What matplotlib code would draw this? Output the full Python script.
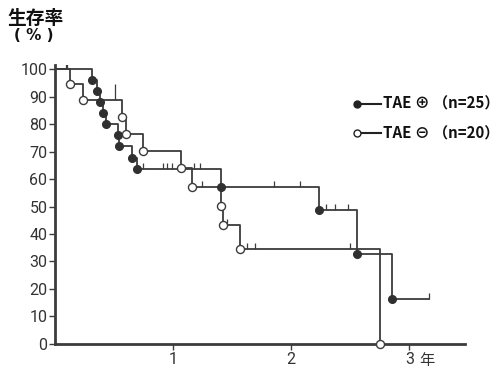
import matplotlib

matplotlib.use("Agg")

import matplotlib.pyplot as plt
import numpy as np
from matplotlib.lines import Line2D

# ---------------------------------------------------------------------------
# Datos (tiempo en anios, supervivencia en %)
# ---------------------------------------------------------------------------

# TAE (+), n=25: eventos (tiempo, supervivencia tras el evento)
tiempos_pos = [0.311, 0.358, 0.384, 0.404, 0.430, 0.536, 0.545, 0.650,
               0.692, 1.407, 2.231, 2.555, 2.853]
superv_pos = [96, 92, 88, 84, 80, 76, 72, 67.5, 63.5, 57, 48.7, 32.7, 16.3]
fin_pos = 3.164
censuras_pos = [0.090, 0.104, 0.748, 0.915, 0.950, 0.992, 1.178, 1.229,
                1.856, 2.076, 2.297, 2.367, 2.483, 3.164]

# TAE (-), n=20
tiempos_neg = [0.127, 0.240, 0.565, 0.600, 0.748, 1.068, 1.158, 1.407,
               1.420, 1.562, 2.748]
superv_neg = [94.5, 88.7, 82.7, 76.3, 70.2, 63.9, 57, 50.2, 43.3, 34.4, 0]
censuras_neg = [0.508, 1.243, 1.455, 1.625, 1.695, 2.500]

etiquetas_y = [0, 10, 20, 30, 40, 50, 60, 70, 80, 90, 100]
etiquetas_x = [1, 2, 3]

COLOR = "#3c3c3c"
ALTO_CENSURA = 2.3
FUENTE_CJK = ["Noto Sans CJK JP", "DejaVu Sans"]


def _curva(tiempos, superv, fin):
    """Devuelve x, y para ax.step (where='post') empezando en 100 %."""
    x = [0.0] + list(tiempos) + [fin]
    y = [100.0] + list(superv) + [superv[-1]]
    return np.array(x), np.array(y)


def _nivel(x, y, t):
    """Supervivencia de la curva escalonada en el instante t."""
    i = np.searchsorted(x, t, side="right") - 1
    return y[max(i, 0)]


class HandlerPuntoIzq:
    """Simbolo de leyenda: marcador a la izquierda y una raya."""

    def __init__(self, relleno):
        self.relleno = relleno

    def legend_artist(self, legend, orig_handle, fontsize, handlebox):
        x0, y0 = handlebox.xdescent, handlebox.ydescent
        w, h = handlebox.width, handlebox.height
        tr = handlebox.get_transform()
        linea = Line2D([x0, x0 + w], [y0 + h / 2, y0 + h / 2],
                       color="#222222", lw=1.5, transform=tr)
        punto = Line2D([x0], [y0 + h / 2], marker="o", markersize=5,
                       markerfacecolor=self.relleno, markeredgecolor="#222222",
                       markeredgewidth=1.0, transform=tr)
        handlebox.add_artist(linea)
        handlebox.add_artist(punto)
        return linea


figura = plt.figure(figsize=(5, 3.7), dpi=100)
eje = figura.add_axes([0.11, 0.0703, 0.82, 0.7543])

x_pos, y_pos = _curva(tiempos_pos, superv_pos, fin_pos)
x_neg, y_neg = _curva(tiempos_neg, superv_neg, tiempos_neg[-1])

eje.step(x_pos, y_pos, where="post", color=COLOR, lw=1.3, zorder=3)
eje.step(x_neg, y_neg, where="post", color=COLOR, lw=1.3, zorder=3)

# Censuras (rayitas verticales sobre la curva)
for t in censuras_pos:
    s = _nivel(x_pos, y_pos, t)
    alto = 3.0 if t < 0.2 else ALTO_CENSURA
    eje.vlines(t, s, s + alto, color=COLOR, lw=0.9, zorder=3)
for t in censuras_neg:
    s = _nivel(x_neg, y_neg, t)
    alto = 6.0 if t < 0.6 else ALTO_CENSURA
    eje.vlines(t, s, s + alto, color=COLOR, lw=0.9, zorder=3)

eje.plot(tiempos_pos, superv_pos, "o", markersize=5.5, color="#303030",
         markeredgecolor="#303030", zorder=4, clip_on=False)
eje.plot(tiempos_neg, superv_neg, "o", markersize=5.8, markerfacecolor="white",
         markeredgecolor=COLOR, markeredgewidth=1.0, zorder=5, clip_on=False)

eje.set_xlim(0, 3.47)
eje.set_ylim(0, 101.5)

for lado in ("top", "right"):
    eje.spines[lado].set_visible(False)
for lado in ("left", "bottom"):
    eje.spines[lado].set_linewidth(2.0)
    eje.spines[lado].set_color(COLOR)

eje.set_yticks(etiquetas_y)
eje.set_yticklabels([str(v) for v in etiquetas_y])
eje.set_xticks(etiquetas_x)
eje.set_xticklabels([str(v) for v in etiquetas_x])
eje.tick_params(axis="both", direction="out", length=4, width=1.0,
                color=COLOR, labelcolor="#333333", pad=1.5)
for etiqueta in eje.get_xticklabels() + eje.get_yticklabels():
    etiqueta.set_family(["Roboto", "DejaVu Sans"])
    etiqueta.set_fontsize(11.5)

eje.annotate("年", xy=(3, 0), xytext=(7, -6), textcoords="offset points",
             ha="left", va="top", fontsize=11, color="#333333",
             family=FUENTE_CJK)

figura.text(7 / 500, 1 - 18 / 370, "生存率", ha="left", va="center",
            fontsize=13.5, fontweight="bold", color="#111111",
            family=FUENTE_CJK)
figura.text(14 / 500, 1 - 35 / 370, "( % )", ha="left", va="center",
            fontsize=11, fontweight="bold", color="#111111",
            family=["DejaVu Sans"])

asas = [Line2D([], []), Line2D([], [])]
leyenda = eje.legend(
    asas,
    ["TAE ⊕ （n=25）", "TAE ⊖ （n=20）"],
    handler_map={asas[0]: HandlerPuntoIzq("#222222"),
                 asas[1]: HandlerPuntoIzq("white")},
    loc="upper left",
    bbox_to_anchor=(356.5 / 500, 1 - 96 / 370),
    bbox_transform=figura.transFigure,
    frameon=False,
    handlelength=1.6,
    handletextpad=0.15,
    labelspacing=0.9,
    borderpad=0,
    borderaxespad=0,
    prop={"family": FUENTE_CJK, "weight": "bold", "size": 10.8},
)
for texto in leyenda.get_texts():
    texto.set_color("#111111")

figura.savefig("out.png", dpi=100)
plt.close(figura)
